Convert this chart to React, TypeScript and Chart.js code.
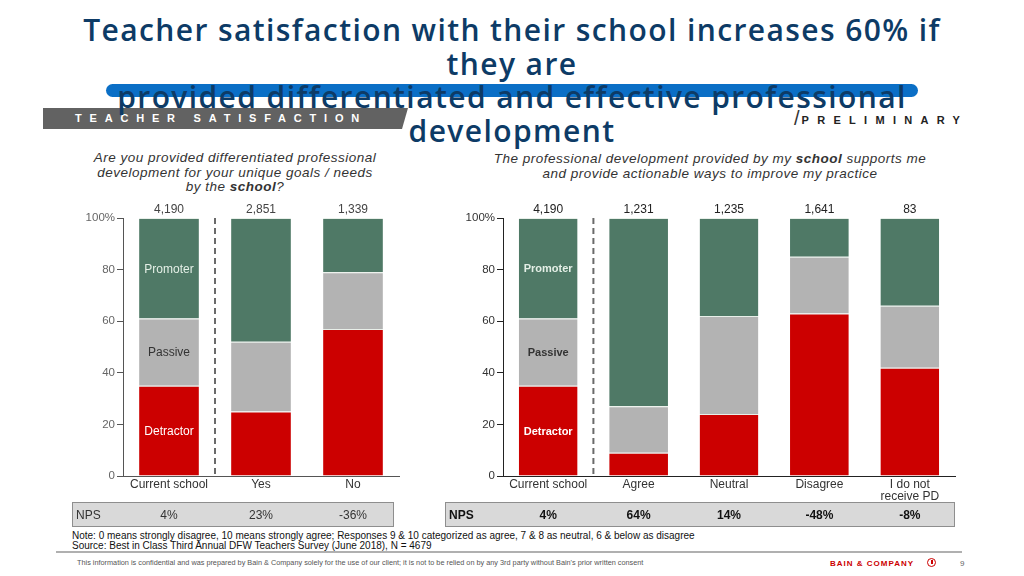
import React, { useEffect, useRef } from "react";
import { Chart, registerables } from "chart.js";

Chart.register(...registerables);

const FONT = "'Liberation Sans', Arial, sans-serif";
Chart.defaults.font.family = FONT;

// ---------- data ----------
const leftCategories = ["Current school", "Yes", "No"];
const leftCounts = ["4,190", "2,851", "1,339"];
const leftDetractor = [35, 25, 57];
const leftPassive = [26, 27, 22];
const leftPromoter = [39, 48, 21];
const leftNps = ["4%", "23%", "-36%"];

const rightCategories = ["Current school", "Agree", "Neutral", "Disagree", ["I do not", "receive PD"]];
const rightCounts = ["4,190", "1,231", "1,235", "1,641", "83"];
const rightDetractor = [35, 9, 24, 63, 42];
const rightPassive = [26, 18, 38, 22, 24];
const rightPromoter = [39, 73, 38, 15, 34];
const rightNps = ["4%", "64%", "14%", "-48%", "-8%"];

const segmentNames = ["Detractor", "Passive", "Promoter"];
const yTickValues = [0, 20, 40, 60, 80, 100];

const RED = "#cc0000";
const GREY = "#b3b3b3";
const GREEN = "#4f7966";

// ---------- plugin ----------
const overlayPlugin = {
  id: "overlay",
  afterDraw(chart: any, _args: any, o: any) {
    const { ctx, chartArea: ca, scales } = chart;
    const x = scales.x;
    ctx.save();
    // dashed divider between first category and the rest
    const xd = (x.getPixelForValue(0) + x.getPixelForValue(1)) / 2;
    ctx.strokeStyle = "#6a6a6a";
    ctx.lineWidth = 2;
    ctx.setLineDash([6, 4]);
    ctx.beginPath();
    ctx.moveTo(xd, ca.top);
    ctx.lineTo(xd, ca.bottom);
    ctx.stroke();
    ctx.setLineDash([]);

    // counts above bars
    ctx.fillStyle = o.strong ? "#222" : "#444";
    ctx.font = `12px ${FONT}`;
    ctx.textAlign = "center";
    ctx.textBaseline = "middle";
    o.counts.forEach((c: string, i: number) => ctx.fillText(c, x.getPixelForValue(i), ca.top - 8));

    // segment labels inside first bar
    const labelColors = ["#ffffff", "#333333", "#e4efe6"];
    chart.data.datasets.forEach((ds: any, di: number) => {
      const el = chart.getDatasetMeta(di).data[0];
      const cy = (el.y + el.base) / 2;
      ctx.fillStyle = labelColors[di];
      ctx.font = o.strong ? `bold 11px ${FONT}` : `12px ${FONT}`;
      ctx.fillText(ds.label, el.x, cy + 1);
    });

    // NPS box
    const by0 = ca.bottom + 26;
    const bh = 25;
    ctx.fillStyle = "#d9d9d9";
    ctx.fillRect(o.boxX0, by0, o.boxX1 - o.boxX0, bh);
    ctx.strokeStyle = "#8e8e8e";
    ctx.lineWidth = 1;
    ctx.strokeRect(o.boxX0 + 0.5, by0 + 0.5, o.boxX1 - o.boxX0 - 1, bh - 1);
    ctx.fillStyle = o.strong ? "#111" : "#333";
    ctx.font = o.strong ? `bold 12px ${FONT}` : `12px ${FONT}`;
    ctx.textAlign = "left";
    ctx.fillText("NPS", o.boxX0 + 4, by0 + bh / 2 + 1);
    ctx.textAlign = "center";
    o.nps.forEach((v: string, i: number) => ctx.fillText(v, x.getPixelForValue(i), by0 + bh / 2 + 1));
    ctx.restore();
  },
};

type Props = {
  categories: any[];
  counts: string[];
  detractor: number[];
  passive: number[];
  promoter: number[];
  nps: string[];
  width: number;
  height: number;
  padRight: number;
  boxX0: number;
  boxX1: number;
  strong: boolean;
  left: number;
  top: number;
};

function StackedChart(p: Props) {
  const ref = useRef<HTMLCanvasElement>(null);
  useEffect(() => {
    const seg = (label: string, data: number[], color: string) => ({
      label,
      data,
      backgroundColor: color,
      borderColor: "#e8efe9",
      borderWidth: { top: 1, left: 0, right: 0, bottom: 0 },
      borderSkipped: false,
      barPercentage: 0.65,
      categoryPercentage: 1,
    });
    const axisColor = p.strong ? "#222" : "#555";
    const chart = new Chart(ref.current as HTMLCanvasElement, {
      type: "bar",
      data: {
        labels: p.categories,
        datasets: [
          seg(segmentNames[0], p.detractor, RED),
          seg(segmentNames[1], p.passive, GREY),
          seg(segmentNames[2], p.promoter, GREEN),
        ] as any,
      },
      options: {
        responsive: false,
        animation: false,
        layout: { padding: { top: 23, right: p.padRight, left: 0, bottom: 0 } },
        plugins: {
          legend: { display: false },
          tooltip: { enabled: false },
          overlay: { counts: p.counts, nps: p.nps, boxX0: p.boxX0, boxX1: p.boxX1, strong: p.strong },
        } as any,
        scales: {
          x: {
            stacked: true,
            grid: { display: false, drawTicks: false },
            border: { display: true, color: axisColor, width: 1 },
            ticks: {
              padding: 3,
              color: "#333",
              font: { size: 12, lineHeight: 1.0 },
              maxRotation: 0,
              autoSkip: false,
            },
            afterFit: (s: any) => {
              s.height = 54;
            },
          },
          y: {
            stacked: true,
            min: 0,
            max: 100,
            afterBuildTicks: (s: any) => {
              s.ticks = yTickValues.map((v) => ({ value: v }));
            },
            ticks: {
              color: p.strong ? "#333" : "#666",
              font: { size: 11.5 },
              padding: 2,
              callback: (v: any) => (v === 100 ? "100%" : String(v)),
            },
            grid: { drawOnChartArea: false, drawTicks: true, tickLength: 6, color: axisColor },
            border: { display: true, color: axisColor, width: 1 },
            afterFit: (s: any) => {
              s.width = 63;
            },
          },
        },
      } as any,
      plugins: [overlayPlugin as any],
    });
    return () => chart.destroy();
  }, []);
  return (
    <canvas
      ref={ref}
      width={p.width}
      height={p.height}
      style={{ position: "absolute", left: p.left, top: p.top, width: p.width, height: p.height }}
    />
  );
}

export default function App() {
  return (
    <div
      style={{
        position: "fixed",
        left: 0,
        top: 0,
        width: 1024,
        height: 576,
        background: "#fff",
        overflow: "hidden",
        fontFamily: FONT,
      }}
    >
      {/* blue highlight bar */}
      <div
        style={{
          position: "absolute",
          left: 106,
          top: 84,
          width: 812,
          height: 13,
          borderRadius: 7,
          background: "#0b6fc6",
        }}
      />
      {/* grey section bar */}
      <div
        style={{
          position: "absolute",
          left: 43,
          top: 108,
          width: 365,
          height: 21,
          background: "#626262",
          clipPath: "polygon(0 0, 100% 0, calc(100% - 6px) 100%, 0 100%)",
        }}
      />
      <div
        style={{
          position: "absolute",
          left: 75,
          top: 110,
          height: 17,
          lineHeight: "17px",
          color: "#fff",
          fontWeight: "bold",
          fontSize: 11,
          letterSpacing: 7.8,
          whiteSpace: "nowrap",
        }}
      >
        TEACHER SATISFACTION
      </div>
      {/* preliminary tag */}
      <div
        style={{
          position: "absolute",
          left: 794,
          top: 107,
          height: 22,
          lineHeight: "22px",
          whiteSpace: "nowrap",
          color: "#222",
        }}
      >
        <span style={{ fontSize: 20, fontWeight: 300, color: "#333" }}>/</span>
        <span style={{ fontSize: 11, fontWeight: "bold", letterSpacing: 8.3, marginLeft: 2, verticalAlign: 1 }}>
          PRELIMINARY
        </span>
      </div>
      {/* title */}
      <div
        style={{
          position: "absolute",
          left: 0,
          top: 13,
          width: 1024,
          textAlign: "center",
          fontFamily: "'Open Sans', sans-serif",
          fontWeight: 600,
          fontSize: 30,
          letterSpacing: 1.4,
          lineHeight: "33.5px",
          color: "#0d3b66",
          whiteSpace: "nowrap",
        }}
      >
        Teacher satisfaction with their school increases 60% if
        <br />
        they are
        <br />
        provided differentiated and effective professional
        <br />
        development
      </div>

      {/* chart headings */}
      <div
        style={{
          position: "absolute",
          left: 60,
          top: 151,
          width: 350,
          textAlign: "center",
          fontStyle: "italic",
          fontSize: 13.5,
          letterSpacing: 0.5,
          lineHeight: "14.5px",
          color: "#333",
          whiteSpace: "nowrap",
        }}
      >
        Are you provided differentiated professional
        <br />
        development for your unique goals / needs
        <br />
        by the <b>school</b>?
      </div>
      <div
        style={{
          position: "absolute",
          left: 460,
          top: 151,
          width: 500,
          textAlign: "center",
          fontStyle: "italic",
          fontSize: 13.5,
          letterSpacing: 0.5,
          lineHeight: "15px",
          color: "#333",
          whiteSpace: "nowrap",
        }}
      >
        The professional development provided by my <b>school</b> supports me
        <br />
        and provide actionable ways to improve my practice
      </div>

      <StackedChart
        categories={leftCategories}
        counts={leftCounts}
        detractor={leftDetractor}
        passive={leftPassive}
        promoter={leftPromoter}
        nps={leftNps}
        left={60}
        top={195}
        width={345}
        height={335}
        padRight={6}
        boxX0={12}
        boxX1={334}
        strong={false}
      />
      <StackedChart
        categories={rightCategories}
        counts={rightCounts}
        detractor={rightDetractor}
        passive={rightPassive}
        promoter={rightPromoter}
        nps={rightNps}
        left={440}
        top={195}
        width={520}
        height={335}
        padRight={5}
        boxX0={5}
        boxX1={515}
        strong={true}
      />

      {/* notes */}
      <div
        style={{
          position: "absolute",
          left: 72,
          top: 531,
          fontSize: 10,
          lineHeight: "9.5px",
          color: "#111",
          whiteSpace: "nowrap",
        }}
      >
        Note: 0 means strongly disagree, 10 means strongly agree; Responses 9 &amp; 10 categorized as agree, 7 &amp; 8 as
        neutral, 6 &amp; below as disagree
        <br />
        Source: Best in Class Third Annual DFW Teachers Survey (June 2018), N = 4679
      </div>
      <div style={{ position: "absolute", left: 56, top: 551, width: 906, height: 2, background: "#b0b0b0" }} />
      <div
        style={{
          position: "absolute",
          left: 77,
          top: 559,
          fontSize: 7.3,
          lineHeight: "8px",
          color: "#555",
          whiteSpace: "nowrap",
        }}
      >
        This information is confidential and was prepared by Bain &amp; Company solely for the use of our client; it is not
        to be relied on by any 3rd party without Bain's prior written consent
      </div>
      <div
        style={{
          position: "absolute",
          left: 830,
          top: 558,
          fontSize: 8,
          lineHeight: "11px",
          fontWeight: "bold",
          letterSpacing: 1,
          color: RED,
          whiteSpace: "nowrap",
        }}
      >
        BAIN &amp; COMPANY
      </div>
      <div
        style={{
          position: "absolute",
          left: 927,
          top: 558,
          width: 9,
          height: 9,
          borderRadius: "50%",
          border: `1.5px solid ${RED}`,
          boxSizing: "border-box",
        }}
      >
        <div style={{ position: "absolute", left: 3, top: 1, width: 1.5, height: 3.5, background: RED }} />
      </div>
      <div
        style={{ position: "absolute", left: 960, top: 558, fontSize: 8, lineHeight: "11px", color: "#666" }}
      >
        9
      </div>
    </div>
  );
}
